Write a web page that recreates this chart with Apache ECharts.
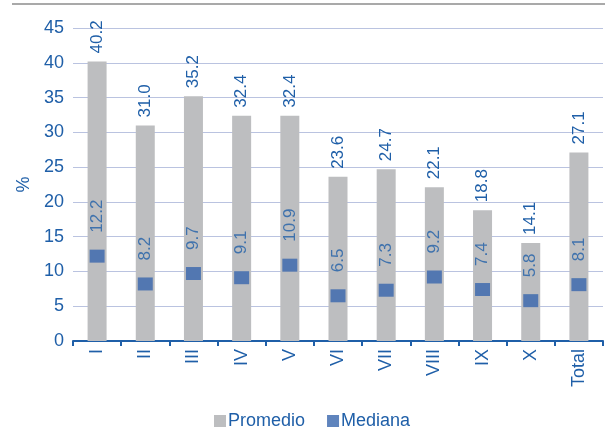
<!DOCTYPE html>
<html><head><meta charset="utf-8">
<script src="https://cdn.jsdelivr.net/npm/echarts@6/dist/echarts.min.js"></script>
<style>html,body{margin:0;padding:0;background:#fff}#c{width:605px;height:431px}</style>
</head><body><div id="c"></div>
<script>
const categories = ['I','II','III','IV','V','VI','VII','VIII','IX','X','Total'];
const promedio = [40.2, 31.0, 35.2, 32.4, 32.4, 23.6, 24.7, 22.1, 18.8, 14.1, 27.1];
const mediana = [12.2, 8.2, 9.7, 9.1, 10.9, 6.5, 7.3, 9.2, 7.4, 5.8, 8.1];
const yTicks = [0,5,10,15,20,25,30,35,40,45];

const blueText = '#1F5FA8';
const font = 'Liberation Sans, Arial, sans-serif';
const chart = echarts.init(document.getElementById('c'));
chart.setOption({
  animation: false,
  textStyle: {fontFamily: font},
  grid: {left: 73, right: 2, top: 28, bottom: 90},
  graphic: [{type: 'line', shape: {x1: 12, y1: 4, x2: 605, y2: 4}, style: {stroke: '#8C8C8C', lineWidth: 1.5}}],
  legend: {
    top: 407, left: 209, itemWidth: 12, itemHeight: 12, itemGap: 22,
    textStyle: {color: blueText, fontSize: 18, fontFamily: font, padding: [0,0,0,-3]},
    data: [{name: 'Promedio', icon: 'rect'}, {name: 'Mediana', icon: 'rect'}]
  },
  xAxis: {
    type: 'category', data: categories,
    axisLine: {lineStyle: {color: '#1F5FA8', width: 2}},
    axisTick: {show: true, length: 5, lineStyle: {color: '#1F5FA8', width: 2}},
    axisLabel: {rotate: 90, color: blueText, fontSize: 18, margin: 8, fontFamily: font}
  },
  yAxis: {
    type: 'value', min: yTicks[0], max: yTicks[yTicks.length-1], interval: 5,
    name: '%', nameLocation: 'middle', nameGap: 40, nameRotate: 90,
    nameTextStyle: {color: blueText, fontSize: 18, fontFamily: font},
    axisLine: {show: false}, axisTick: {show: false},
    axisLabel: {color: blueText, fontSize: 18, margin: 9, fontFamily: font},
    splitLine: {lineStyle: {color: '#BAC3E0', width: 1.2}}
  },
  series: [
    {
      name: 'Promedio', type: 'bar', data: promedio, barWidth: 19,
      itemStyle: {color: '#BDBEC0'},
      label: {show: true, position: 'top', rotate: 90, align: 'left', verticalAlign: 'middle', distance: 8,
        color: blueText, fontSize: 17, fontFamily: font, formatter: p => p.value.toFixed(1)}
    },
    {
      name: 'Mediana', type: 'scatter', data: mediana, symbol: 'rect', symbolSize: [15, 13],
      itemStyle: {color: '#3765AD'}, z: 5,
      label: {show: true, position: 'top', rotate: 90, align: 'left', verticalAlign: 'middle', distance: 17,
        color: blueText, fontSize: 17, fontFamily: font, formatter: p => p.value.toFixed(1)}
    }
  ]
});
</script></body></html>
